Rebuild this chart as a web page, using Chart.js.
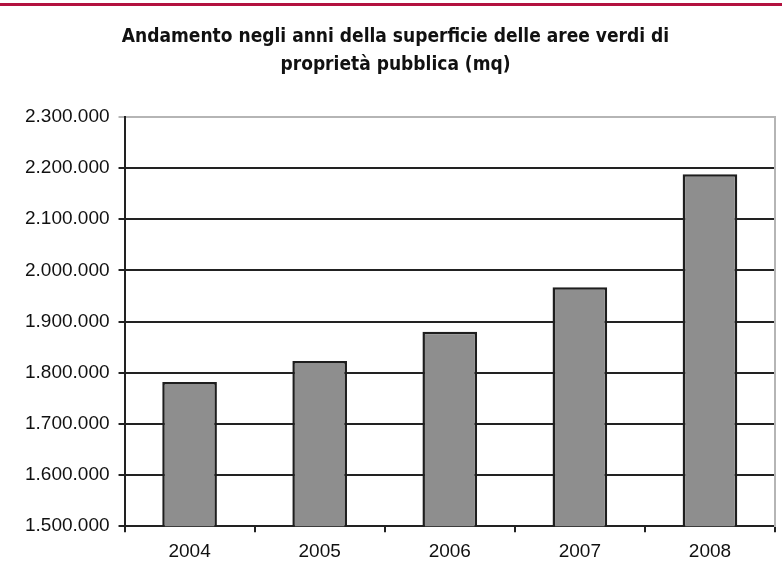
<!DOCTYPE html>
<html>
<head>
<meta charset="utf-8">
<script src="https://cdn.jsdelivr.net/npm/chart.js@4.4.1/dist/chart.umd.min.js"></script>
<style>
  html, body { margin: 0; padding: 0; background: #fff; }
  .wrap { width: 782px; height: 582px; position: relative; }
  .topline { position: absolute; left: 0; top: 3px; width: 782px; height: 3px; background: #b3123f; }
  canvas { position: absolute; left: 0; top: 0; }
</style>
</head>
<body>
<div class="wrap">
  <canvas id="chart" width="782" height="582"></canvas>
  <div class="topline"></div>
</div>
<script>
const years = ['2004', '2005', '2006', '2007', '2008'];
const superficie = [1782000, 1823000, 1880000, 1967000, 2188000];
const titleLines = ['Andamento negli anni della superficie delle aree verdi di', 'proprietà pubblica (mq)'];
const yMin = 1500000;
const yMax = 2300000;
const yStep = 100000;

const fmt = v => String(v).replace(/\B(?=(\d{3})+(?!\d))/g, '.');

const ctx = document.getElementById('chart').getContext('2d');
new Chart(ctx, {
  type: 'bar',
  data: {
    labels: years,
    datasets: [{
      data: superficie,
      backgroundColor: '#8e8e8e',
      borderColor: '#1e1e1e',
      borderWidth: 2.5,
      borderSkipped: 'bottom',
      barPercentage: 0.42,
      categoryPercentage: 1
    }]
  },
  options: {
    responsive: false,
    animation: false,
    layout: { padding: { left: 16, right: 7, top: 23, bottom: 11 } },
    plugins: {
      legend: { display: false },
      tooltip: { enabled: false },
      title: {
        display: true,
        text: titleLines,
        color: '#111',
        font: { family: "'DejaVu Sans Condensed', 'Liberation Sans', Arial", size: 19, weight: 'bold', lineHeight: 1.47 },
        padding: { top: 0, bottom: 38 }
      }
    },
    scales: {
      x: {
        offset: true,
        grid: { offset: true, drawOnChartArea: false, drawTicks: true, tickLength: 6, color: '#222', lineWidth: 2 },
        border: { display: true, color: '#222', width: 2 },
        ticks: { color: '#111', font: { family: "'Liberation Sans', Arial", size: 19 }, padding: 8 }
      },
      y: {
        min: yMin,
        max: yMax,
        ticks: {
          stepSize: yStep,
          color: '#111',
          font: { family: "'Liberation Sans', Arial", size: 19 },
          padding: 9,
          callback: v => fmt(v)
        },
        grid: {
          color: c => (c.tick && c.tick.value === yMax) ? '#b5b5b5' : '#222',
          lineWidth: 2,
          tickLength: 6
        },
        border: { display: true, color: '#222', width: 2 }
      },
      y2: {
        position: 'right',
        min: yMin,
        max: yMax,
        ticks: { display: false },
        grid: { drawOnChartArea: false, drawTicks: false },
        border: { display: true, color: '#b5b5b5', width: 2 }
      }
    }
  }
});
</script>
</body>
</html>
